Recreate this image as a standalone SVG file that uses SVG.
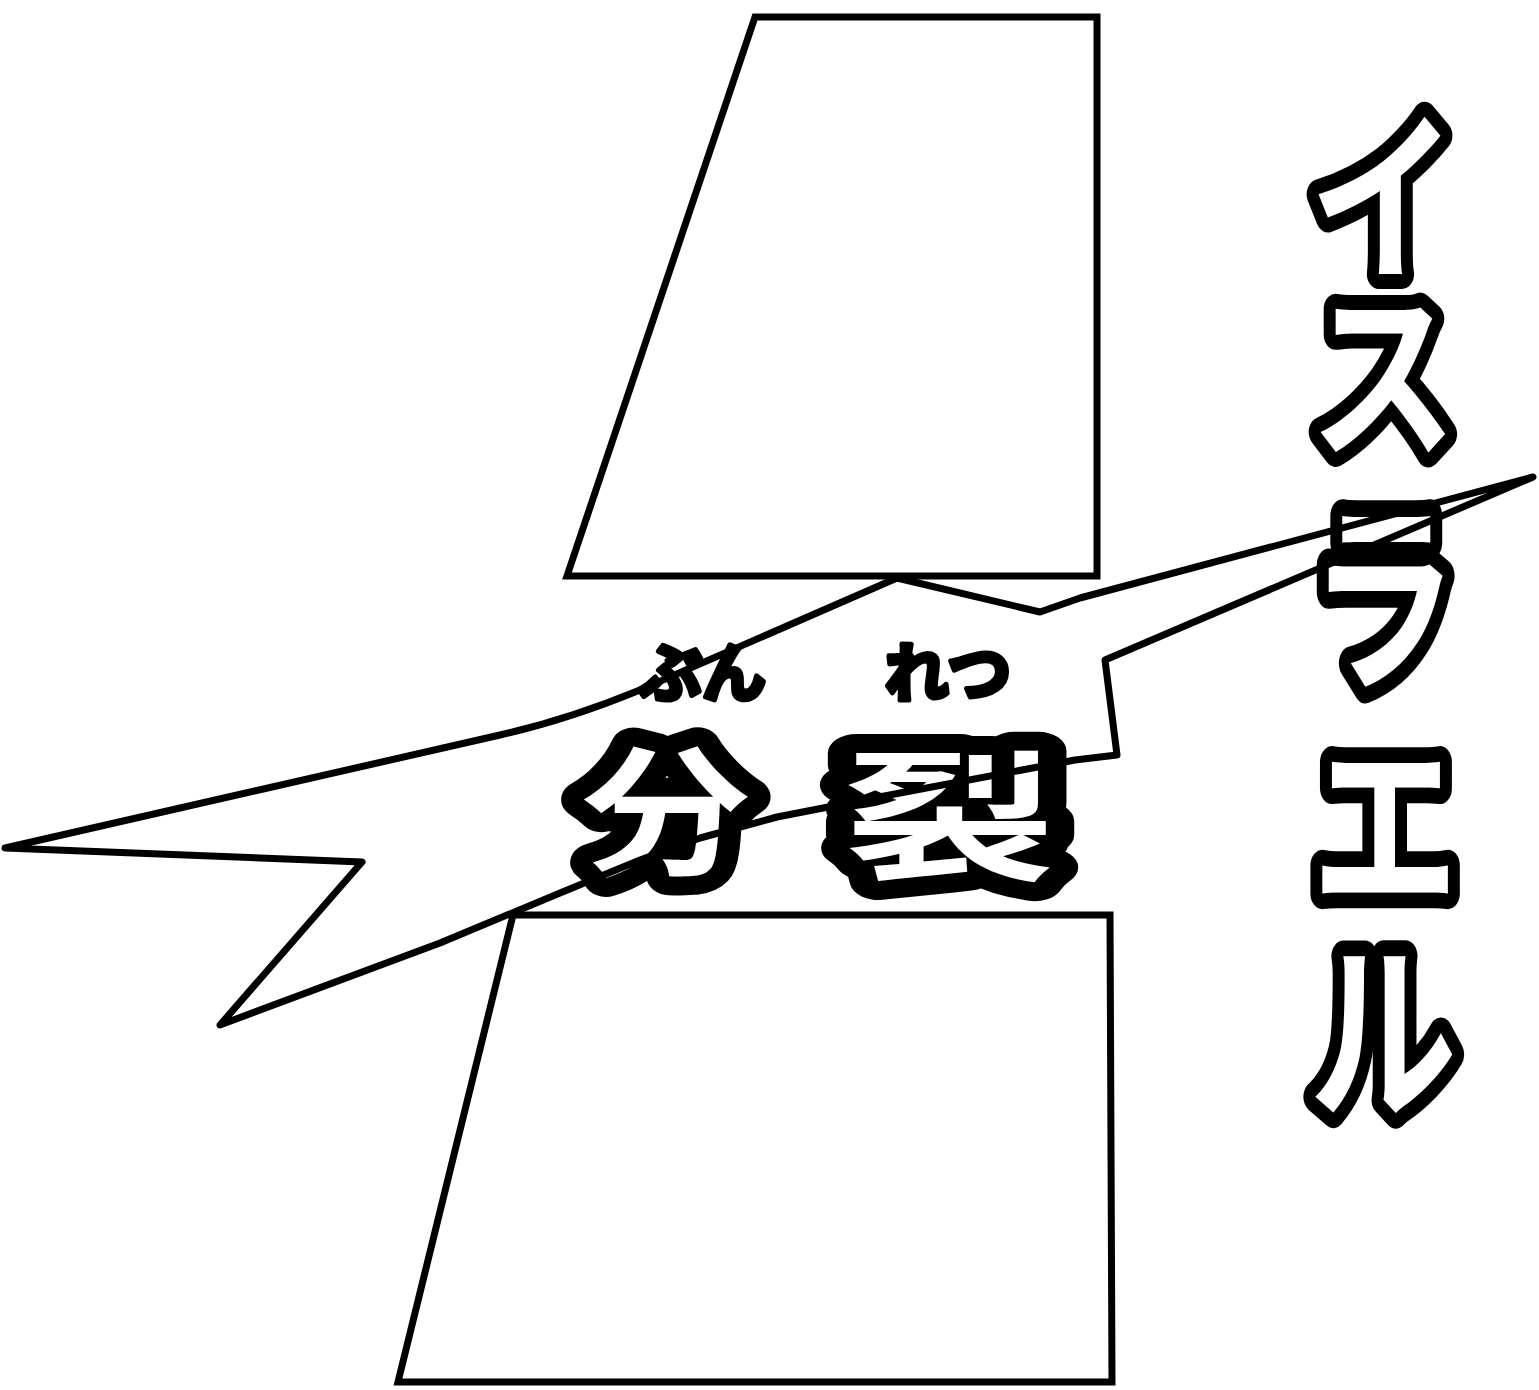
<svg xmlns="http://www.w3.org/2000/svg" width="1539" height="1390" viewBox="0 0 1539 1390">
<style>
.panel{fill:#fff;stroke:#000;stroke-width:7;stroke-linejoin:miter}
.bolt{fill:none;stroke:#000;stroke-width:7;stroke-linejoin:round}
.big{font-family:"Noto Sans CJK JP","Noto Sans CJK SC",sans-serif;font-weight:bold;fill:#fff;stroke:#000;stroke-linejoin:round;stroke-linecap:round;paint-order:stroke;text-anchor:middle}
.kata{font-size:184px;stroke-width:30px}
.kanji{font-size:140px;stroke-width:38px}
.ruby{font-family:"Noto Sans CJK JP","Noto Sans CJK SC",sans-serif;font-weight:bold;font-size:64px;fill:#000;stroke:#000;stroke-width:5;stroke-linejoin:round;text-anchor:middle}
</style>
<rect width="1539" height="1390" fill="#fff"/>
<g id="panel-top"><polygon class="panel" points="755,17 1097,17 1097,576 567,576"/></g>
<g id="panel-bottom"><polygon class="panel" points="513,915 1110,915 1112,1382 398,1382"/></g>
<g id="title-vertical">
<text class="big kata" transform="translate(1383,266) scale(0.8,1)">イ</text>
<text class="big kata" transform="translate(1383,444) scale(0.8,1)">ス</text>
<text class="big kata" transform="translate(1383,674) scale(0.8,1.12)">ラ</text>
<text class="big kata" transform="translate(1385,897) scale(0.8,1.05)">エ</text>
<text class="big kata" transform="translate(1383,1104) scale(0.8,1.05)">ル</text>
</g>
<g id="label-bunretsu">
<text class="big kanji" transform="translate(666,864) scale(1.2,1)">分</text>
<text class="big kanji" transform="translate(950,869) scale(1.5,1)">裂</text>
<text class="ruby" x="702" y="696">ぶん</text>
<text class="ruby" x="948" y="696">れつ</text>
</g>
<g id="connectors">
<path class="bolt" d="M5,848 L500,735 Q567,720 640,690 L897,578 L1040,612 L1080,598 L1533,477 L1105,660 L1117,755 L1075,760 L900,793 L777,817 L700,838 L640,860 L560,893 L440,943 L220,1025 L362,862 Z"/>
</g>
</svg>
